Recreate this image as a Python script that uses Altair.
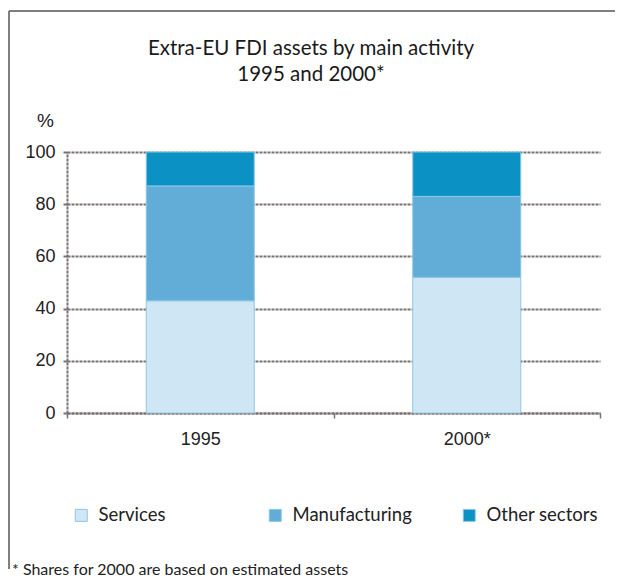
import altair as alt
import pandas as pd

years = ["1995", "2000*"]
sectors = ["Services", "Manufacturing", "Other sectors"]
services = [43, 52]
manufacturing = [44, 31]
other = [13, 17]
colors = ["#cfe7f4", "#62acd8", "#0c91c4"]
title_lines = ["Extra-EU FDI assets by main activity", "1995 and 2000*"]
footnote = "* Shares for 2000 are based on estimated assets"

rows = []
for i, yr in enumerate(years):
    for k, (s, vals) in enumerate(zip(sectors, [services, manufacturing, other])):
        rows.append({"year": yr, "sector": s, "share": vals[i], "order": k})
df = pd.DataFrame(rows)

TICK_FONT = "Liberation Sans Narrow, Liberation Sans, Arial"
TEXT_FONT = "Lato"
GRID = "#7a7070"

bars = alt.Chart(df).mark_bar(size=108, stroke="#8cc6e6", strokeWidth=1).encode(
    x=alt.X("year:N", sort=years, title=None,
            scale=alt.Scale(paddingInner=0, paddingOuter=0),
            axis=alt.Axis(labelAngle=0, labelFont=TICK_FONT, labelFontSize=18,
                          labelColor="#222222", labelPadding=12, tickBand="extent",
                          ticks=True, tickSize=5, tickColor=GRID, tickWidth=1.5,
                          domainColor=GRID, domainWidth=2, domainDash=[3, 1],
                          grid=False)),
    y=alt.Y("share:Q", stack="zero", scale=alt.Scale(domain=[0, 100]),
            axis=alt.Axis(values=[0, 20, 40, 60, 80, 100], title="%",
                          titleAngle=0, titleX=-22, titleY=-22, titleAlign="center",
                          titleBaseline="bottom", titleFont=TICK_FONT,
                          titleFontSize=19, titleFontWeight="normal",
                          titleColor="#222222",
                          labelFont=TICK_FONT, labelFontSize=18, labelColor="#222222",
                          labelPadding=8, tickSize=4, tickColor=GRID, tickWidth=2,
                          domainColor=GRID, domainWidth=2, domainDash=[3, 1],
                          grid=True, gridColor=GRID, gridWidth=2, gridDash=[3, 1])),
    color=alt.Color("sector:N", sort=sectors,
                    scale=alt.Scale(domain=sectors, range=colors),
                    legend=alt.Legend(title=None, orient="none", legendX=5, legendY=354,
                                      direction="horizontal", columns=3,
                                      gridAlign="all", columnPadding=48, padding=0,
                                      symbolType="square", symbolSize=144,
                                      symbolStrokeColor="#8cc6e6", symbolStrokeWidth=1,
                                      labelOffset=8, labelFont=TEXT_FONT,
                                      labelFontSize=18.5, labelColor="#222222")),
    order=alt.Order("order:Q"),
)

one = alt.Data(values=[{"k": 1}])

frame_left = alt.Chart(one).mark_rule(color="#555555", strokeWidth=1.5).encode(
    x=alt.value(-58), y=alt.value(-141), y2=alt.value(417))
frame_top = alt.Chart(one).mark_rule(color="#555555", strokeWidth=1.5).encode(
    x=alt.value(-58), x2=alt.value(548), y=alt.value(-141))

title1 = alt.Chart(one).mark_text(font=TEXT_FONT, fontSize=20.5, color="#1a1a1a",
                                  align="center", baseline="alphabetic").encode(
    x=alt.value(244), y=alt.value(-97), text=alt.value(title_lines[0]))
title2 = alt.Chart(one).mark_text(font=TEXT_FONT, fontSize=20.5, color="#1a1a1a",
                                  align="center", baseline="alphabetic").encode(
    x=alt.value(244), y=alt.value(-71), text=alt.value(title_lines[1]))
foot = alt.Chart(one).mark_text(font=TEXT_FONT, fontSize=16, color="#222222",
                                align="left", baseline="alphabetic").encode(
    x=alt.value(-55), y=alt.value(423), text=alt.value(footnote))

chart = alt.layer(bars, frame_left, frame_top, title1, title2, foot).properties(
    width=533, height=261,
    autosize=alt.AutoSizeParams(type="none"),
    padding={"left": 59, "top": 144, "right": 15, "bottom": 165},
).configure_view(stroke=None)

chart.save("out.html", embed_options={"renderer": "svg", "actions": False})
